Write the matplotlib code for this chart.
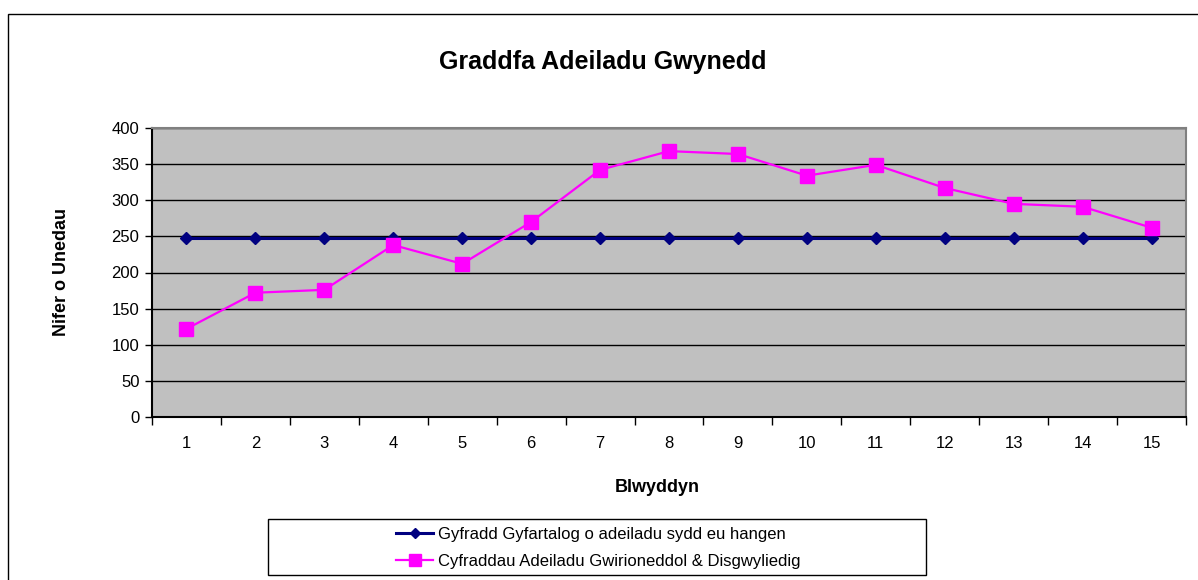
import matplotlib
matplotlib.use("Agg")
import matplotlib.pyplot as plt
from matplotlib.patches import Rectangle

years = list(range(1, 16))
required = [248] * 15
actual = [122, 172, 176, 238, 212, 270, 342, 368, 364, 334, 349, 317, 295, 291, 262]
label_required = "Gyfradd Gyfartalog o adeiladu sydd eu hangen"
label_actual = "Cyfraddau Adeiladu Gwirioneddol & Disgwyliedig"
title = "Graddfa Adeiladu Gwynedd"
xlabel = "Blwyddyn"
ylabel = "Nifer o Unedau"
yticks = [0, 50, 100, 150, 200, 250, 300, 350, 400]

plt.rcParams['font.family'] = ['Liberation Sans', 'DejaVu Sans']

W, H = 1198, 580
fig = plt.figure(figsize=(W / 100, H / 100), dpi=100)
fig.patch.set_facecolor('white')

# outer chart border
fig.add_artist(Rectangle((8 / W, -0.05), 1.2, 1 - 14 / H + 0.05, transform=fig.transFigure,
                         fill=False, edgecolor='black', linewidth=1))

ax = fig.add_axes([152 / W, 1 - 417 / H, (1186 - 152) / W, (417 - 128) / H])
ax.set_facecolor('#C0C0C0')
ax.set_xlim(0.5, 15.5)
ax.set_ylim(0, 400)
ax.set_yticks(yticks)
ax.yaxis.grid(True, color='black', linewidth=1)
ax.set_axisbelow(True)

ax.plot(years, required, color='#000080', linewidth=2.2, marker='D', markersize=6,
        label=label_required, zorder=3)
ax.plot(years, actual, color='#FF00FF', linewidth=1.6, marker='s', markersize=10,
        label=label_actual, zorder=4)

ax.set_xticks(years)
ax.set_xticks([y + 0.5 for y in [0] + years], minor=True)
ax.tick_params(axis='x', which='major', length=0, pad=14, labelsize=12)
ax.tick_params(axis='x', which='minor', length=6, width=1, direction='out')
ax.tick_params(axis='y', length=5, width=1, direction='out', labelsize=12, pad=4)

for s in ['left', 'bottom']:
    ax.spines[s].set_color('black')
    ax.spines[s].set_linewidth(1.5)
for s in ['top', 'right']:
    ax.spines[s].set_color('#808080')
    ax.spines[s].set_linewidth(1.5)

fig.text(603 / W, 1 - 62 / H, title, ha='center', va='center', fontsize=18, fontweight='bold')
fig.text(657 / W, 1 - 488 / H, xlabel, ha='center', va='center', fontsize=13, fontweight='bold')
fig.text(62 / W, 1 - 272 / H, ylabel, ha='center', va='center', fontsize=13, fontweight='bold',
         rotation=90)

# legend box
fig.add_artist(Rectangle((268 / W, 1 - 575 / H), (926 - 268) / W, (575 - 519) / H,
                         transform=fig.transFigure, fill=False, edgecolor='black', linewidth=1))
handles, labels = ax.get_legend_handles_labels()
leg = fig.legend(handles, labels, loc='center left', bbox_to_anchor=(388 / W, 1 - 548 / H),
                 frameon=False, fontsize=12, handlelength=2.2, handletextpad=0.3,
                 labelspacing=0.75, markerscale=0.8, borderpad=0)

fig.savefig('out.png', dpi=100)
